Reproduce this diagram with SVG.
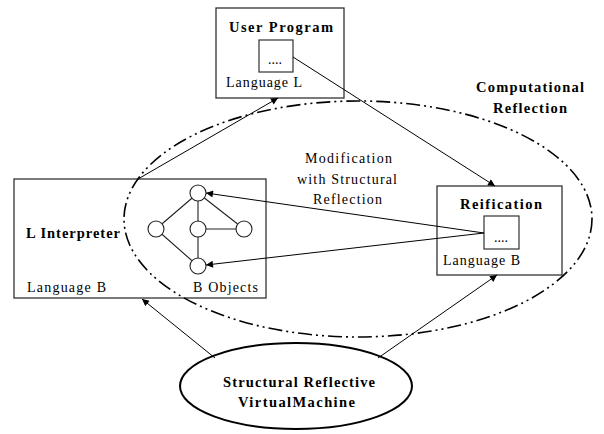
<svg xmlns="http://www.w3.org/2000/svg" width="604" height="434" viewBox="0 0 604 434">
<defs>
<marker id="ah" viewBox="0 0 10 10" refX="10" refY="5" markerWidth="9" markerHeight="7" markerUnits="userSpaceOnUse" orient="auto">
<path d="M0,0 L10,5 L0,10 z" fill="#000"/>
</marker>
<style>
.box{fill:#fff;stroke:#333;stroke-width:1.3}
.ib{fill:#fff;stroke:#333;stroke-width:1.2}
text{font-family:'Liberation Serif','DejaVu Serif',serif;fill:#000}
.b{font-weight:bold;font-size:14.5px}
.n{font-size:14px}
.arr{stroke:#000;stroke-width:1;fill:none;marker-end:url(#ah)}
.g{stroke:#222;stroke-width:1.1;fill:none}
.nd{fill:#fff;stroke:#222;stroke-width:1.1}
</style>
</defs>
<rect width="604" height="434" fill="#fff"/>

<g id="user-program">
<rect class="box" x="216" y="8" width="128" height="90"/>
<text class="b" x="229" y="32" textLength="104" lengthAdjust="spacing">User Program</text>
<rect class="ib" x="259" y="40" width="34" height="32"/>
<text class="n" x="268" y="64">....</text>
<text class="n" x="226" y="87" textLength="76" lengthAdjust="spacing">Language L</text>
</g>

<g id="l-interpreter">
<rect class="box" x="14" y="179" width="252" height="119"/>
<text class="b" x="26" y="238" textLength="94" lengthAdjust="spacing">L Interpreter</text>
<text class="n" x="27" y="292" textLength="79" lengthAdjust="spacing">Language B</text>
<text class="n" x="193" y="292" textLength="65" lengthAdjust="spacing">B Objects</text>
<g id="b-objects">
<path class="g" d="M198,193 L156,229 M198,193 L198,266 M198,193 L244,229 M198,229 L244,229 M156,229 L198,266"/>
<circle class="nd" cx="198" cy="193" r="8"/>
<circle class="nd" cx="156" cy="229" r="8"/>
<circle class="nd" cx="198" cy="229" r="8"/>
<circle class="nd" cx="244" cy="229" r="8"/>
<circle class="nd" cx="198" cy="266" r="8"/>
</g>
</g>

<g id="reification">
<rect class="box" x="437" y="186" width="125" height="89"/>
<text class="b" x="460" y="209" textLength="82" lengthAdjust="spacing">Reification</text>
<rect class="ib" x="484" y="216" width="35" height="33"/>
<text class="n" x="494" y="242">....</text>
<text class="n" x="443" y="265" textLength="77" lengthAdjust="spacing">Language B</text>
</g>

<g id="computational-reflection">
<ellipse cx="358" cy="219" rx="234" ry="118" fill="none" stroke="#000" stroke-width="1.6" stroke-dasharray="14 4 2 4 2 4"/>
<text class="b" x="476" y="92" textLength="108" lengthAdjust="spacing">Computational</text>
<text class="b" x="493" y="113" textLength="74" lengthAdjust="spacing">Reflection</text>
</g>

<g id="vm">
<ellipse cx="296" cy="386" rx="116" ry="43" fill="#fff" stroke="#000" stroke-width="2"/>
<text class="b" x="223" y="387" textLength="152" lengthAdjust="spacing">Structural Reflective</text>
<text class="b" x="238" y="407" textLength="117" lengthAdjust="spacing">VirtualMachine</text>
</g>

<g id="connectors">
<line class="arr" x1="138" y1="179" x2="278" y2="98"/>
<line class="arr" x1="293" y1="57" x2="495" y2="186"/>
<line class="arr" x1="215" y1="358" x2="142" y2="299"/>
<line class="arr" x1="378" y1="358" x2="497" y2="275"/>
<line class="arr" x1="484" y1="233" x2="206" y2="193"/>
<line class="arr" x1="484" y1="233" x2="206" y2="265"/>
<text class="n" x="305" y="163" textLength="87" lengthAdjust="spacing">Modification</text>
<text class="n" x="297" y="184" textLength="100" lengthAdjust="spacing">with Structural</text>
<text class="n" x="313" y="204" textLength="69" lengthAdjust="spacing">Reflection</text>
</g>
</svg>
